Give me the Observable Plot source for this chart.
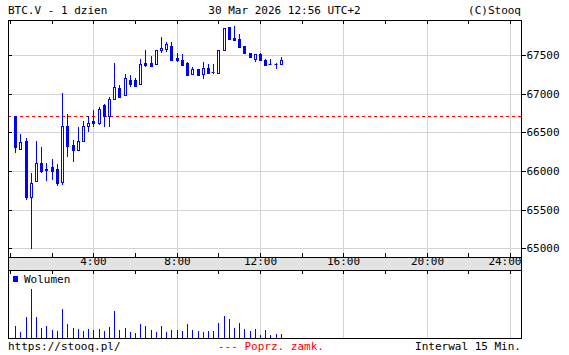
<!DOCTYPE html>
<html>
<head>
<meta charset="utf-8">
<script src="https://cdn.jsdelivr.net/npm/d3@7"></script>
<script src="https://cdn.jsdelivr.net/npm/@observablehq/plot@0.6"></script>
<style>
  html, body { margin: 0; padding: 0; background: #fff; }
  #wrap { position: relative; width: 569px; height: 355px; overflow: hidden;
          font-family: "DejaVu Sans Mono", monospace; font-size: 11px; color: #000; }
  .t { position: absolute; white-space: pre; line-height: 13px; }
  #band { position: absolute; left: 8px; top: 258px; width: 514px; height: 12px; box-sizing: border-box;
          background: #e3e3e3; border-left: 1px solid #000; border-right: 1px solid #000; }
  #wrap svg { position: absolute; left: 0; top: 0; }
  #sq { position: absolute; left: 13px; top: 276px; width: 5px; height: 6px; background: #0000ff; }
</style>
</head>
<body>
<div id="wrap">
  <div id="band"></div>
  <div class="t" style="left:8px;top:4px;">BTC.V - 1 dzien</div>
  <div class="t" style="left:0;width:569px;text-align:center;top:4px;">30 Mar 2026 12:56 UTC+2</div>
  <div class="t" style="right:48px;top:4px;">(C)Stooq</div>
  <div id="sq"></div>
  <div class="t" style="left:24px;top:273px;">Wolumen</div>
  <div class="t" style="left:8px;top:340px;">https://stooq.pl/</div>
  <div class="t" style="left:218px;top:340px;color:#ff0000;">--- Poprz. zamk.</div>
  <div class="t" style="right:48px;top:340px;">Interwal 15 Min.</div>
</div>
<script>
// 15-minute candles, 00:00 .. 12:45 (plotted at interval end)
const open  = [66710,66285,66390,65665,65865,66100,66025,66050,66020,65855,66580,66330,66265,66390,66585,66640,66625,66855,66710,66925,67070,66985,67175,67175,67120,67400,67400,67380,67560,67580,67615,67455,67430,67400,67255,67315,67250,67330,67275,67265,67565,67860,67725,67705,67615,67525,67450,67515,67440,67390,67390,67385];
const high  = [66715,66475,66425,65980,66390,66305,66100,66155,66085,67010,66735,66400,66575,66650,66710,66790,66825,66860,66960,67400,67110,67255,67240,67200,67445,67565,67490,67570,67730,67670,67665,67520,67510,67405,67345,67320,67405,67380,67380,67570,67850,67865,67875,67770,67620,67530,67510,67530,67445,67445,67395,67470];
const low   = [66230,66270,65625,64995,65860,65970,65875,65885,65810,65820,66185,66120,66255,66375,66510,66565,66595,66575,66575,66920,66955,66975,67090,67090,67115,67345,67350,67375,67525,67545,67430,67405,67370,67230,67250,67245,67190,67270,67255,67260,67560,67705,67695,67605,67520,67470,67415,67435,67360,67385,67315,67380];
const close = [66305,66380,65660,65850,66100,66005,66010,66005,65850,66585,66325,66270,66385,66580,66615,66615,66800,66710,66925,67080,66960,67200,67125,67105,67380,67375,67360,67565,67590,67640,67435,67430,67375,67240,67320,67245,67335,67270,67275,67565,67845,67705,67695,67605,67520,67470,67510,67435,67375,67390,67390,67435];
const volume = [35,17,62,147,62,29,35,23,20,86,41,29,26,20,26,23,26,20,32,80,23,29,17,14,41,35,23,17,35,17,23,23,20,41,23,20,17,20,20,44,65,56,29,44,26,20,26,10,23,10,11,11];
const prevClose = 66706;
const priceTicks = [65000, 65500, 66000, 66500, 67000, 67500];
const hourLabels = [4, 8, 12, 16, 20];
const lastHourLabel = [24];
const minorHours = [0, 2, 4, 6, 8, 10, 12, 14, 16, 18, 20, 22, 24];
const gridHours = [4, 8, 12, 16, 20, 24];

const candles = open.map((o, i) => ({
  t: (i + 1) * 0.25, o, h: high[i], l: low[i], c: close[i], v: volume[i]
}));
const up = candles.filter(d => d.c > d.o);
const down = candles.filter(d => d.c < d.o);
const doji = candles.filter(d => d.c === d.o);

const BLUE = "#0000ff", GRID = "#d3d3d3";
const xDomain = [-0.096, 24.528];
const common = {
  width: 569, marginLeft: 8, marginRight: 48,
  style: { background: "transparent", fontFamily: "DejaVu Sans Mono, monospace", fontSize: "11px", color: "#000", overflow: "visible" }
};

const main = Plot.plot({
  ...common,
  height: 271, marginTop: 20, marginBottom: 14,
  x: { domain: xDomain, round: true, axis: null },
  y: { domain: [64887, 67953], round: true, axis: null },
  marks: [
    Plot.ruleY(priceTicks, { stroke: GRID }),
    Plot.ruleX(gridHours, { stroke: GRID }),
    Plot.ruleY([prevClose], { stroke: "#ff0000", strokeDasharray: "3,3" }),
    Plot.ruleX(minorHours, { stroke: "#000", insetBottom: 233 }),
    Plot.ruleX(minorHours, { stroke: "#000", insetTop: 233 }),
    Plot.ruleY(priceTicks, { stroke: "#000", insetRight: 509 }),
    Plot.ruleX(candles, { x: "t", y1: "l", y2: "h", stroke: BLUE }),
    Plot.rect(up, { x1: "t", x2: "t", y1: "o", y2: "c", insetLeft: -1, insetRight: -1, dx: 0.5, dy: 0.5, fill: "#fff", stroke: BLUE }),
    Plot.rect(down, { x1: "t", x2: "t", y1: "o", y2: "c", insetLeft: -1, insetRight: -1, dx: 0.5, dy: 0.5, fill: BLUE, stroke: BLUE }),
    Plot.ruleY(doji, { y: "o", x1: "t", x2: "t", insetLeft: -1.5, insetRight: -1.5, stroke: BLUE }),
    Plot.axisY(priceTicks, { anchor: "right", tickSize: 4, tickPadding: 1, tickFormat: d => String(d), fontSize: 11 }),
    Plot.text(hourLabels, { x: d => d, frameAnchor: "bottom", dy: 7, text: d => d + ":00", fontSize: 11 }),
    Plot.text(lastHourLabel, { x: d => d, frameAnchor: "bottom", dy: 7, dx: 11, textAnchor: "end", text: d => d + ":00", fontSize: 11 }),
    Plot.frame({ stroke: "#000" })
  ]
});

const vol = Plot.plot({
  ...common,
  height: 355, marginTop: 270, marginBottom: 17,
  x: { domain: xDomain, round: true, axis: null },
  y: { domain: [0, 204], round: true, axis: null },
  marks: [
    Plot.ruleX(gridHours, { stroke: GRID }),
    Plot.ruleX(minorHours, { stroke: "#000", insetBottom: 64 }),
    Plot.ruleX(candles, { x: "t", y1: 0, y2: "v", stroke: BLUE }),
    Plot.frame({ stroke: "#000" })
  ]
});

const wrap = document.getElementById("wrap");
wrap.appendChild(main);
wrap.appendChild(vol);
</script>
</body>
</html>
